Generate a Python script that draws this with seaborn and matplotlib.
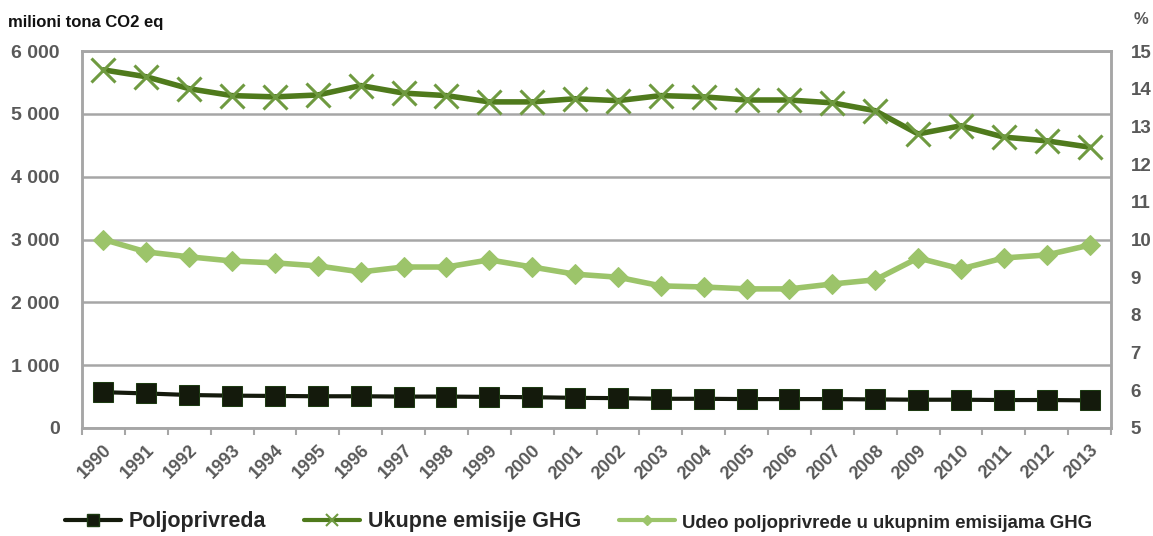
import matplotlib
matplotlib.use("Agg")
import matplotlib.pyplot as plt
from matplotlib.lines import Line2D
from matplotlib.ticker import FuncFormatter
import seaborn as sns
import numpy as np

years = [str(y) for y in range(1990, 2014)]
poljoprivreda = [570, 550, 525, 515, 510, 505, 505, 500, 500, 495, 490, 480,
                 475, 465, 465, 460, 460, 460, 455, 450, 450, 445, 445, 440]
ukupne = [5700, 5590, 5400, 5290, 5270, 5300, 5450, 5330, 5290, 5190, 5190, 5240,
          5210, 5290, 5270, 5220, 5220, 5175, 5050, 4680, 4810, 4630, 4570, 4470]
udeo = [10.0, 9.67, 9.54, 9.43, 9.38, 9.30, 9.14, 9.27, 9.27, 9.46, 9.27, 9.08,
        9.00, 8.77, 8.74, 8.69, 8.69, 8.82, 8.93, 9.51, 9.22, 9.51, 9.59, 9.85]

labels = ["Poljoprivreda", "Ukupne emisije GHG", "Udeo poljoprivrede u ukupnim emisijama GHG"]

sns.set_style("white")
plt.rcParams['font.family'] = ['Liberation Sans', 'DejaVu Sans']

c_polj = "#141a0c"
c_uk = "#4f7a1c"
c_uk_m = "#6f9a40"
c_ud = "#9cc46a"
grey = "#a6a6a6"
tick_col = "#595959"

fig = plt.figure(figsize=(11.53, 5.36), dpi=100)
ax = fig.add_axes([82/1153, 1-428/536, (1111-82)/1153, (428-51)/536])
ax2 = ax.twinx()

x = np.arange(len(years))

sns.lineplot(x=x, y=ukupne, ax=ax, color=c_uk, lw=4, marker="x", markersize=17,
             markeredgewidth=2.2, markeredgecolor=c_uk_m, zorder=4)
sns.lineplot(x=x, y=poljoprivreda, ax=ax, color=c_polj, lw=3, marker="s", markersize=14,
             markeredgecolor="#1d3a12", markerfacecolor=c_polj, zorder=4)
sns.lineplot(x=x, y=udeo, ax=ax2, color=c_ud, lw=4, marker="D", markersize=10,
             markeredgecolor=c_ud, markerfacecolor=c_ud, zorder=4)

ax.set_xlim(-0.5, len(years) - 0.5)
ax.set_ylim(0, 6000)
ax2.set_ylim(5, 15)
ax.set_yticks(range(0, 6001, 1000))
ax2.set_yticks(range(5, 16))
ax.yaxis.set_major_formatter(FuncFormatter(lambda v, p: f"{int(v):,}".replace(",", " ")))

ax.grid(True, axis="y", color=grey, lw=1.8)
ax.set_axisbelow(True)
ax.grid(False, axis="x")
ax2.grid(False)

ax.set_xticks(x)
ax.set_xticklabels(years, rotation=45, ha="right", rotation_mode="anchor",
                   fontsize=13, fontweight="bold", color=tick_col)
ax.set_xticks(np.arange(-0.5, len(years)), minor=True)
ax.tick_params(axis="x", which="major", length=0, pad=10)
ax.tick_params(axis="x", which="minor", length=5, width=1.5, color=grey, direction="out", bottom=True)
ax.tick_params(axis="y", length=0, labelsize=14, labelcolor=tick_col, pad=16)
ax2.tick_params(axis="y", length=0, labelsize=13.5, labelcolor=tick_col, pad=14)
for t in ax.get_yticklabels() + ax2.get_yticklabels():
    t.set_fontweight("bold")

for a in (ax, ax2):
    for s in a.spines.values():
        s.set_color(grey)
        s.set_linewidth(1.8)
        s.set_visible(True)

ax.set_xlabel("")
ax.set_ylabel("")
ax2.set_ylabel("")

fig.text(8/1153, 1-22/536, "milioni tona CO2 eq", fontsize=12, fontweight="bold",
         color="#111111", va="center", ha="left")
fig.text(1141/1153, 1-20/536, "%", fontsize=12, fontweight="bold", color=tick_col,
         va="center", ha="center")

handles = [
    Line2D([], [], color=c_polj, lw=3, marker="s", markersize=9, markerfacecolor=c_polj,
           markeredgecolor="#1d3a12"),
    Line2D([], [], color=c_uk, lw=3, marker="x", markersize=8, markeredgewidth=1.5,
           markeredgecolor=c_uk_m),
    Line2D([], [], color=c_ud, lw=3, marker="D", markersize=5, markerfacecolor=c_ud,
           markeredgecolor=c_ud),
]
leg = fig.legend(handles, labels, loc="center", bbox_to_anchor=(0.502, 1-522/536), ncol=3,
                 frameon=False, handlelength=2.6, columnspacing=1.75, handletextpad=0.35,
                 prop={"weight": "bold", "size": 15.5})
texts = leg.get_texts()
texts[2].set_fontsize(13.4)

fig.savefig("out.png", dpi=100)
